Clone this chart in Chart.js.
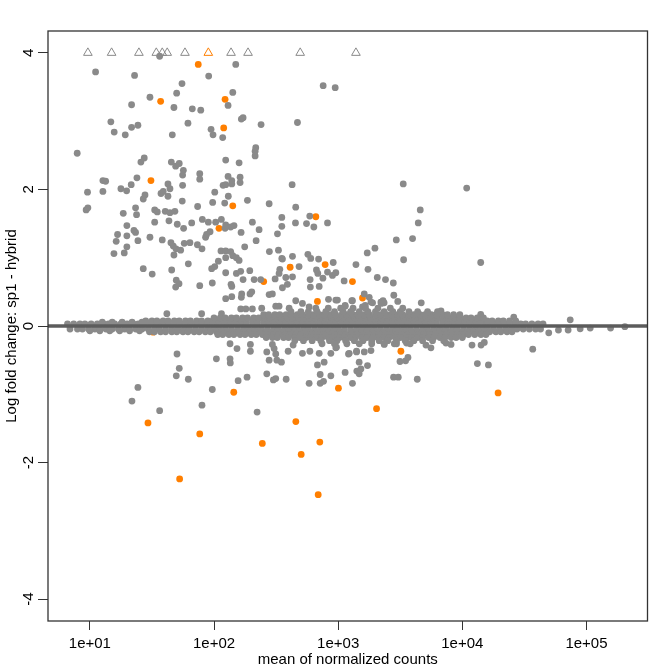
<!DOCTYPE html>
<html>
<head>
<meta charset="utf-8">
<script src="https://cdn.jsdelivr.net/npm/chart.js@4.4.0/dist/chart.umd.min.js"></script>
<style>
  html, body { margin: 0; padding: 0; background: #fff; }
  #wrap { width: 669px; height: 669px; }
</style>
</head>
<body>
<div id="wrap"><canvas id="maPlot" width="669" height="669"></canvas></div>
<script>
// axis ticks
const xTickValues = [10, 100, 1000, 10000, 100000];
const xTickLabels = ['1e+01', '1e+02', '1e+03', '1e+04', '1e+05'];
const yTickValues = [-4, -2, 0, 2, 4];
const yTickLabels = ['-4', '-2', '0', '2', '4'];

// dense cloud of genes near zero: rows of log10(mean count) at a given log fold change
const bandRows = [
  { lfc: 0.03, logMean: [0.82,0.87,0.92,0.96,1.01,1.06,1.11,1.15,1.2,1.25,1.3,1.35,1.39,1.44,1.49,1.54,1.59,1.63,1.68,1.73,1.78,1.83,1.87,1.92,1.97,2.02,2.07,2.11,2.16,2.21,2.26,2.31,2.35,2.4,2.45,2.5,2.55,2.59,2.64,2.69,2.74,2.79,2.83,2.88,2.93,2.98,3.03,3.07,3.12,3.17,3.22,3.27,3.31,3.36,3.41,3.46,3.51,3.55,3.6,3.65,3.7,3.75,3.79,3.84,3.89,3.94,3.99,4.03,4.08,4.13,4.18,4.23,4.27,4.32,4.37,4.42,4.47,4.51,4.56,4.61,4.65] },
  { lfc: -0.045, logMean: [0.84,0.9,0.94,0.99,1.04,1.08,1.13,1.18,1.23,1.28,1.32,1.37,1.42,1.47,1.52,1.56,1.61,1.66,1.71,1.76,1.8,1.85,1.9,1.95,2.0,2.04,2.09,2.14,2.19,2.24,2.28,2.33,2.38,2.43,2.48,2.52,2.57,2.62,2.67,2.72,2.76,2.81,2.86,2.91,2.96,3.0,3.05,3.1,3.15,3.2,3.24,3.29,3.34,3.39,3.44,3.48,3.53,3.58,3.63,3.68,3.72,3.77,3.82,3.87,3.92,3.96,4.01,4.06,4.11,4.16,4.2,4.25,4.3,4.35,4.4,4.44,4.49,4.54,4.59,4.63] },
  { lfc: 0.055, logMean: [1.1,1.18,1.26,1.34,1.42] },
  { lfc: -0.07, logMean: [1.0,1.08,1.16,1.24,1.32,1.4] },
  { lfc: 0.075, logMean: [1.45,1.5,1.54,1.59,1.63,1.68,1.72,1.77,1.81,1.86,1.9,1.95,1.99,2.04,2.08,2.13,2.17,2.22,2.26,2.31,2.35,2.4,2.44,2.49,2.53,2.58,2.62,2.67,2.71,2.76,2.8,2.85,2.89,2.94,2.98,3.03,3.07,3.12,3.16,3.21,3.25,3.3,3.34,3.39,3.43,3.48,3.52,3.57,3.61,3.66,3.7,3.75,3.79,3.84,3.88,3.93,3.97,4.02,4.06,4.11,4.15,4.2,4.24,4.29,4.33,4.38,4.43] },
  { lfc: -0.085, logMean: [1.48,1.52,1.57,1.61,1.66,1.7,1.75,1.79,1.84,1.88,1.93,1.97,2.02,2.06,2.11,2.15,2.2,2.24,2.29,2.33,2.38,2.42,2.47,2.51,2.56,2.6,2.65,2.69,2.74,2.78,2.83,2.87,2.92,2.96,3.01,3.05,3.1,3.14,3.19,3.23,3.28,3.32,3.37,3.41,3.46,3.5,3.55,3.59,3.64,3.68,3.73,3.77,3.82,3.86,3.91,3.95,4.0,4.04,4.09,4.13,4.18,4.22,4.27,4.31,4.36,4.4] },
  { lfc: 0.12, logMean: [2.0,2.05,2.09,2.14,2.18,2.23,2.27,2.32,2.36,2.41,2.45,2.5,2.54,2.59,2.63,2.68,2.72,2.77,2.81,2.86,2.9,2.95,2.99,3.04,3.08,3.13,3.17,3.22,3.26,3.31,3.35,3.4,3.44,3.49,3.53,3.58,3.62,3.67,3.71,3.76,3.8,3.85,3.89,3.94,3.98,4.03,4.07,4.12,4.17] },
  { lfc: -0.125, logMean: [2.03,2.07,2.12,2.16,2.21,2.25,2.3,2.34,2.39,2.43,2.48,2.52,2.57,2.61,2.66,2.7,2.75,2.79,2.84,2.88,2.93,2.97,3.02,3.06,3.11,3.15,3.2,3.24,3.29,3.33,3.38,3.42,3.47,3.51,3.56,3.6,3.65,3.69,3.74,3.78,3.83,3.87,3.92,3.96,4.01,4.05,4.1,4.15,4.19] },
  { lfc: 0.165, logMean: [2.4,2.44,2.49,2.53,2.58,2.62,2.67,2.71,2.76,2.8,2.85,2.89,2.94,2.98,3.03,3.07,3.12,3.16,3.21,3.25,3.3,3.34,3.39,3.43,3.48,3.52,3.57,3.61,3.66,3.7,3.75,3.79,3.84,3.88,3.93,3.98] },
  { lfc: -0.17, logMean: [2.42,2.47,2.51,2.56,2.6,2.65,2.69,2.74,2.78,2.83,2.87,2.92,2.96,3.01,3.05,3.1,3.14,3.19,3.23,3.28,3.32,3.37,3.41,3.46,3.5,3.55,3.59,3.64,3.68,3.73,3.77,3.82,3.86,3.91,3.95,4.0] },
  { lfc: 0.21, logMean: [2.62,2.7,2.76,2.83,2.9,2.97,3.04,3.1,3.17,3.24,3.3,3.37,3.44,3.5,3.57,3.64,3.72,3.8] },
  { lfc: -0.215, logMean: [2.65,2.72,2.79,2.86,2.93,2.99,3.06,3.13,3.2,3.27,3.33,3.4,3.47,3.54,3.61,3.68,3.76,3.85] },
  { lfc: 0.26, logMean: [2.82,2.92,3.02,3.12,3.22,3.32,3.42,3.52] },
  { lfc: -0.26, logMean: [2.87,2.97,3.07,3.17,3.27,3.37,3.47,3.58] }
];

// non-significant genes away from the band: [log10(mean count), log fold change]
const grayPoints = [
  [1.562,3.95],[1.046,3.72],[1.360,3.67],[2.175,3.83],[1.957,3.66],[1.742,3.55],[1.699,3.41],[1.484,3.35],[2.151,3.42],[2.113,3.23],[1.336,3.24],[1.677,3.20],[1.825,3.18],[1.893,3.16],[2.879,3.52],[2.976,3.49],
  [1.169,2.99],[1.196,2.84],[1.336,2.91],[1.387,2.94],[1.285,2.80],[1.664,2.80],[1.790,2.97],[1.976,2.88],[1.992,2.80],[2.070,2.76],[2.220,3.03],[2.234,3.05],[2.379,2.95],[2.672,2.98],
  [0.898,2.53],[2.336,2.61],[2.331,2.56],[2.331,2.49],[1.438,2.46],[1.411,2.40],[1.656,2.40],[1.691,2.34],[1.720,2.38],[1.753,2.28],[1.747,2.21],[2.094,2.43],[2.202,2.39],[1.885,2.23],[1.885,2.15],[2.113,2.19],[2.143,2.13],[2.210,2.18],[2.210,2.10],[2.073,2.06],[2.094,2.07],[2.143,2.08],[2.629,2.07],[1.105,2.13],[1.127,2.12],[1.379,2.17],[1.333,2.07],[1.250,2.01],[1.296,1.98],[0.981,1.96],[1.105,1.97],[1.629,2.08],[1.645,2.01],[1.747,2.06],[2.006,1.96],[2.115,1.90],[1.573,1.94],[1.591,1.97],[1.629,1.90],[1.444,1.92],[1.430,1.86],
  [0.970,1.70],[0.984,1.73],[1.744,1.83],[1.868,1.75],[1.989,1.81],[2.086,1.80],[2.269,1.84],[2.444,1.79],[2.658,1.74],[1.269,1.65],[1.376,1.63],[1.368,1.73],[1.522,1.70],[1.543,1.67],[1.607,1.68],[1.645,1.66],[1.685,1.68],[1.522,1.52],[1.637,1.54],[1.704,1.49],[1.755,1.43],[1.820,1.51],[1.906,1.56],[1.954,1.52],[2.013,1.52],[2.059,1.56],[2.094,1.48],[2.134,1.45],[2.161,1.47],[2.089,1.43],[2.218,1.37],[2.309,1.52],[2.363,1.41],[2.546,1.59],[2.546,1.46],[2.656,1.51],[2.511,1.35],[2.745,1.50],[2.804,1.45],[2.914,1.51],[2.771,1.61],
  [1.298,1.47],[1.223,1.34],[1.212,1.24],[1.298,1.32],[1.298,1.16],[1.368,1.37],[1.355,1.40],[1.387,1.25],[1.194,1.06],[1.277,1.07],[1.484,1.30],[1.583,1.26],[1.653,1.22],[1.672,1.17],[1.694,1.13],[1.731,1.11],[1.760,1.21],[1.677,1.04],[1.806,1.22],[1.866,1.19],[1.903,1.13],[1.932,1.30],[1.968,1.38],[1.940,1.34],[1.793,0.91],[2.056,1.10],[2.094,1.10],[2.134,1.09],[2.151,1.03],[2.180,1.00],[2.202,0.96],[2.094,1.00],[2.035,0.95],[2.247,1.16],[2.339,1.25],[2.446,1.09],[2.519,1.11],[2.551,0.98],[2.632,1.02],[2.756,1.05],[2.842,0.98],[2.960,0.93],[2.779,0.99],[2.546,0.99],
  [3.524,2.08],[4.035,2.02],[3.661,1.70],[3.645,1.51],[3.468,1.26],[3.599,1.28],[3.296,1.14],[3.234,1.07],[3.527,0.97],[4.148,0.93],[3.143,0.90],[3.240,0.83],[3.315,0.71],[3.381,0.68],[3.444,0.63],[3.448,0.45],[3.480,0.36],[3.210,0.47],[3.250,0.42],[3.361,0.37],[3.347,0.33],[3.669,0.34],[3.828,0.22],[4.148,0.17],[4.414,0.13],[4.869,0.09],[3.264,0.35],[3.344,0.35],[3.370,0.34],[3.056,0.29],[3.115,0.37],[2.994,0.38],[3.277,0.34],[3.196,0.28],[3.218,0.30],
  [1.430,0.84],[1.502,0.76],[1.659,0.82],[1.696,0.67],[1.718,0.62],[1.691,0.57],[1.885,0.59],[1.981,0.84],[2.006,0.87],[1.986,0.63],[2.094,0.78],[2.137,0.61],[2.143,0.58],[2.180,0.77],[2.215,0.80],[2.234,0.68],[2.288,0.81],[2.323,0.68],[2.376,0.68],[2.444,0.46],[2.470,0.47],[2.492,0.69],[2.530,0.83],[2.524,0.77],[2.578,0.71],[2.551,0.56],[2.591,0.61],[2.632,0.72],[2.685,0.87],[2.776,0.57],[2.774,0.68],[2.836,0.77],[2.825,0.82],[2.877,0.70],[2.914,0.79],[2.847,0.58],[3.048,0.66],[2.954,0.74],[2.981,0.78],
  [2.094,0.40],[2.143,0.43],[2.220,0.42],[2.223,0.47],[2.290,0.47],[2.304,0.50],[2.215,0.25],[2.256,0.25],[2.309,0.25],[2.384,0.26],[2.497,0.29],[2.524,0.29],[2.605,0.26],[2.658,0.37],[2.712,0.33],[2.766,0.28],[2.922,0.39],[2.981,0.38],[3.056,0.30],[3.110,0.37],
  [1.62,0.18],[1.90,0.18],[2.06,0.18],
  [1.702,-0.41],[2.019,-0.48],[2.129,-0.48],[2.131,-0.54],[2.185,-0.33],[2.293,-0.27],[2.293,-0.37],[1.720,-0.62],[1.696,-0.73],[1.793,-0.78],[1.387,-0.90],[1.339,-1.10],[1.562,-1.24],[1.986,-0.93],[1.903,-1.16],[2.194,-0.80],[2.266,-0.75],[2.425,-0.70],[2.478,-0.79],[2.497,-0.77],[2.581,-0.78],[2.347,-1.26],[2.425,-0.38],[2.484,-0.33],[2.497,-0.41],[2.444,-0.50],[2.506,-0.50],[2.543,-0.53],[2.597,-0.37],[2.637,-0.28],[2.712,-0.40],[2.772,-0.37],[2.847,-0.40],[2.941,-0.40],[2.986,-0.31],[3.089,-0.40],[3.148,-0.37],[2.833,-0.57],[2.887,-0.53],[2.766,-0.84],[2.855,-0.84],[2.882,-0.81],[2.855,-0.71],[2.941,-0.73],[3.056,-0.68],[3.150,-0.66],[3.115,-0.84],[2.129,-0.26],[2.470,-0.27],
  [4.567,-0.34],[4.121,-0.55],[4.210,-0.57],[3.498,-0.52],[3.543,-0.51],[3.562,-0.46],[3.446,-0.75],[3.484,-0.75],[3.637,-0.78],[3.169,-0.53],[3.183,-0.63],[3.236,-0.58],[3.169,-0.70],[3.083,-0.41],[2.981,-0.32],[3.148,-0.38],[3.210,-0.38],[3.264,-0.36],[3.371,-0.27],[3.452,-0.26],[3.551,-0.25],[3.707,-0.28],[3.747,-0.32],[3.868,-0.25],[3.909,-0.27],[4.078,-0.28],[4.151,-0.28],[4.177,-0.24],
  [4.696,-0.10],[4.774,-0.06],[4.852,-0.06],[4.949,-0.04],[5.030,-0.03],[5.194,-0.03],[5.309,-0.01]
];

// significant genes (orange)
const sigPoints = [
  [1.873,3.83],[1.570,3.29],[2.089,3.32],[2.078,2.90],[1.492,2.13],[2.151,1.76],[2.040,1.43],[2.820,1.60],[2.895,0.90],[2.613,0.86],[2.400,0.65],[3.115,0.65],[2.833,0.36],[3.196,0.41],[1.510,-0.09],
  [2.159,-0.97],[1.468,-1.42],[1.885,-1.58],[2.389,-1.72],[2.659,-1.40],[2.702,-1.88],[2.852,-1.70],[1.723,-2.24],[2.839,-2.47],[3.002,-0.91],[3.309,-1.21],[3.505,-0.37],[4.288,-0.98]
];

// genes whose fold change is beyond the y limit, shown as triangles at the limit
const clipLfc = 4;
const grayClipped = [0.984,1.175,1.395,1.535,1.583,1.623,1.766,2.137,2.274,2.694,3.143];
const sigClipped = [1.954];

const gray = '#8a8a8a';
const orange = '#ff7f00';

const toXY = p => ({ x: Math.pow(10, p[0]), y: p[1] });

const bandData = [];
bandRows.forEach(r => r.logMean.forEach(m => bandData.push({ x: Math.pow(10, m), y: r.lfc })));

Chart.defaults.font.family = "'Liberation Sans', Arial, sans-serif";
Chart.defaults.color = '#000';

const labelFont = { family: "'Liberation Sans', Arial, sans-serif", size: 15 };

// zero line and box around the plot
const framePlugin = {
  id: 'framePlugin',
  afterDatasetsDraw(chart) {
    const { ctx, chartArea: a, scales: { y } } = chart;
    const y0 = y.getPixelForValue(0);
    ctx.save();
    ctx.beginPath();
    ctx.rect(a.left, a.top, a.right - a.left, a.bottom - a.top);
    ctx.clip();
    ctx.strokeStyle = '#5c5c5c';
    ctx.lineWidth = 3.6;
    ctx.beginPath();
    ctx.moveTo(a.left, y0);
    ctx.lineTo(a.right, y0);
    ctx.stroke();
    ctx.restore();
    ctx.save();
    ctx.strokeStyle = '#333';
    ctx.lineWidth = 1.3;
    ctx.strokeRect(a.left, a.top, a.right - a.left, a.bottom - a.top);
    ctx.restore();
  }
};

const pointStyleOf = color => ({
  backgroundColor: color,
  borderWidth: 0,
  pointRadius: 3.4,
  pointHoverRadius: 3.4
});

new Chart(document.getElementById('maPlot'), {
  type: 'scatter',
  data: {
    datasets: [
      Object.assign({ label: 'band', data: bandData }, pointStyleOf(gray)),
      Object.assign({ label: 'not significant', data: grayPoints.map(toXY) }, pointStyleOf(gray)),
      Object.assign({ label: 'significant', data: sigPoints.map(toXY) }, pointStyleOf(orange)),
      {
        label: 'clipped',
        data: grayClipped.map(m => ({ x: Math.pow(10, m), y: clipLfc })),
        pointStyle: 'triangle',
        pointRadius: 5,
        backgroundColor: 'rgba(0,0,0,0)',
        borderColor: gray,
        borderWidth: 1
      },
      {
        label: 'clipped significant',
        data: sigClipped.map(m => ({ x: Math.pow(10, m), y: clipLfc })),
        pointStyle: 'triangle',
        pointRadius: 5,
        backgroundColor: 'rgba(0,0,0,0)',
        borderColor: orange,
        borderWidth: 1
      }
    ]
  },
  options: {
    responsive: false,
    animation: false,
    events: [],
    layout: { padding: { top: 31, right: 21.5, left: 0, bottom: 0 } },
    plugins: {
      legend: { display: false },
      tooltip: { enabled: false }
    },
    scales: {
      x: {
        type: 'logarithmic',
        min: 4.6,
        max: 3.1e5,
        afterBuildTicks: s => { s.ticks = xTickValues.map(v => ({ value: v })); },
        afterFit: s => { s.height = 48; },
        ticks: {
          autoSkip: false,
          maxRotation: 0,
          padding: 5,
          color: '#000',
          font: labelFont,
          callback: (v, i) => xTickLabels[i]
        },
        grid: { drawOnChartArea: false, drawTicks: true, tickLength: 9, color: '#333', lineWidth: 1 },
        border: { display: false },
        title: {
          display: true,
          text: 'mean of normalized counts',
          color: '#000',
          font: labelFont,
          padding: { top: 0, bottom: 0 }
        }
      },
      y: {
        type: 'linear',
        min: -4.32,
        max: 4.32,
        afterBuildTicks: s => { s.ticks = yTickValues.map(v => ({ value: v })); },
        afterFit: s => { s.width = 48; },
        ticks: {
          minRotation: 90,
          maxRotation: 90,
          crossAlign: 'center',
          padding: 2,
          color: '#000',
          font: labelFont,
          callback: (v, i) => yTickLabels[i]
        },
        grid: { drawOnChartArea: false, drawTicks: true, tickLength: 10, color: '#333', lineWidth: 1 },
        border: { display: false },
        title: {
          display: true,
          text: 'Log fold change: sp1 - hybrid',
          color: '#000',
          font: labelFont,
          padding: { top: 3, bottom: 0 }
        }
      }
    }
  },
  plugins: [framePlugin]
});
</script>
</body>
</html>
